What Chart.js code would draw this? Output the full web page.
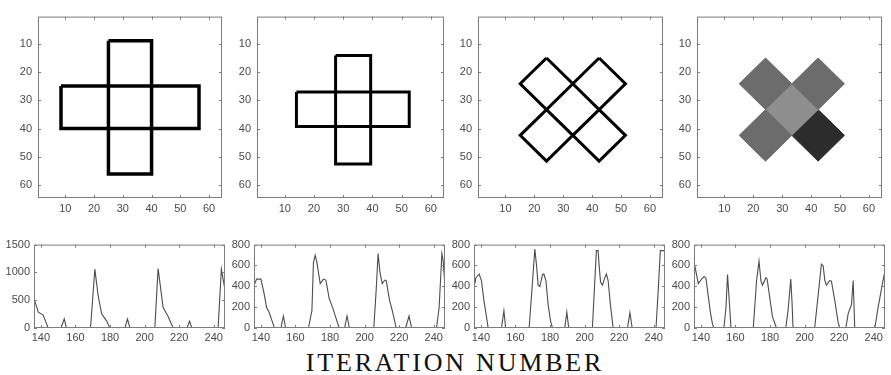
<!DOCTYPE html>
<html>
<head>
<meta charset="utf-8">
<script src="https://cdn.jsdelivr.net/npm/chart.js@4/dist/chart.umd.min.js"></script>
<style>
  body { margin: 0; background: #fff; }
  #wrap { position: relative; width: 891px; height: 375px; overflow: hidden; background: #fff; }
  canvas { position: absolute; }
  #caption {
    position: absolute; left: 0; width: 910px; top: 350px; text-align: center;
    font-family: "Liberation Serif", "DejaVu Serif", serif; font-size: 26px; line-height: 26px;
    letter-spacing: 2.8px; color: #111;
  }
</style>
</head>
<body>
<div id="wrap">
  <canvas id="img1"></canvas>
  <canvas id="img2"></canvas>
  <canvas id="img3"></canvas>
  <canvas id="img4"></canvas>
  <canvas id="trace1"></canvas>
  <canvas id="trace2"></canvas>
  <canvas id="trace3"></canvas>
  <canvas id="trace4"></canvas>
  <div id="caption">ITERATION NUMBER</div>
</div>
<script>
// image panels: pixel grid 1..64
const imgTicks = [10, 20, 30, 40, 50, 60];

// crosses as two overlapping bars: [x0, x1, y0, y1]
const cross1 = [[25, 40, 9, 56], [8.5, 56.5, 25, 40]];
const cross2 = [[27.4, 39.4, 14.2, 52.5], [14, 52.6, 27.1, 39.3]];

// rotated squares (diamonds): centres and half diagonal
const diamondCx = [24.2, 42.4, 24.2, 42.4];
const diamondCy = [24.2, 24.2, 42.4, 42.4];
const diamondR = 9.1;
// filled version: four corner patches plus the middle one
const patchCx = [24.2, 42.4, 24.2, 33.3, 42.4];
const patchCy = [24.2, 24.2, 42.4, 33.3, 42.4];
const patchGray = ['#6c6c6c', '#6c6c6c', '#6c6c6c', '#8e8e8e', '#2c2c2c'];

// iteration traces
const iterTicks = [140, 160, 180, 200, 220, 240];

const trace1X = [136.3, 138.5, 141.3, 144.2, 151.6, 153.5, 154.8, 168.7, 171.2, 173.1, 175.1, 178, 179.9,
  188.6, 190.1, 191.5, 205.9, 207.8, 210.7, 213.6, 216.5, 224.5, 226, 227.3, 242.5, 244.4, 246.4];
const trace1Y = [502, 286, 232, 0, 0, 162, 0, 0, 1058, 583, 259, 124, 0,
  0, 162, 0, 0, 1068, 367, 205, 0, 0, 124, 0, 0, 1058, 700];

const trace2X = [136.1, 137.5, 140, 141.9, 143.3, 144.7, 146.2, 147.8, 151.6, 153, 154.3,
  167.5, 169.5, 170.4, 171.4, 172.4, 174.3, 176.2, 177.6, 179.5, 181.5, 184, 185.3,
  188.4, 189.8, 191.2, 205.3, 206.7, 207.8, 208.8, 210.2, 211.7, 212.5, 214.4, 216, 218.3,
  223.7, 225.7, 227.2, 241.6, 243.1, 244.7, 245.4, 246.4];
const trace2Y = [411, 469, 469, 325, 196, 153, 81, 0, 0, 115, 0,
  0, 167, 627, 699, 627, 426, 469, 460, 282, 196, 66, 0,
  0, 115, 0, 0, 368, 714, 541, 426, 460, 455, 268, 167, 0,
  0, 115, 0, 0, 196, 714, 650, 426];

const trace3X = [136.5, 137.1, 139, 140.3, 141.7, 143.2, 144.2, 151.9, 153.3, 154.3,
  167.9, 169.9, 171.2, 172.2, 173.1, 174.1, 175.6, 176.4, 177.6, 178.9, 180.3, 181.4,
  188.5, 189.7, 190.8, 204.5, 206.8, 207.8, 208.4, 209.2, 210.3, 211.7, 212.6, 213.6, 214.9, 216.5,
  224.8, 226.2, 227.5, 241.3, 242.6, 243.8, 246.4];
const trace3Y = [426, 483, 518, 455, 268, 109, 0, 0, 167, 0,
  0, 455, 757, 598, 411, 397, 512, 518, 455, 224, 66, 0,
  0, 152, 0, 0, 742, 742, 598, 440, 411, 483, 518, 455, 224, 0,
  0, 147, 0, 0, 368, 742, 742];

const trace4X = [136.4, 138.5, 140.4, 141.9, 142.9, 144.2, 145.6, 146.7, 147.5,
  153.3, 154.5, 155.4, 156.2, 157.4,
  170.3, 172.2, 173.6, 174.7, 175.6, 177.6, 178.3, 179.9, 181.4, 183.7,
  189.1, 190.4, 192, 192.7, 193.3,
  205.8, 207.8, 209.7, 210.7, 211.7, 212.6, 214.5, 215.5, 217.4, 219.4, 220.3,
  223.8, 225.2, 227.1, 228.1, 229, 240.6, 242.5, 245, 246.4];
const trace4Y = [600, 426, 470, 495, 480, 311, 138, 37, 0,
  0, 196, 512, 311, 0,
  0, 455, 642, 455, 411, 483, 470, 282, 109, 0,
  0, 167, 469, 250, 0,
  0, 311, 613, 598, 455, 411, 455, 449, 268, 52, 0,
  0, 138, 224, 455, 0, 0, 196, 426, 540];

// frame boxes of the eight axes (page pixels)
const imgLeft = [38, 257, 478, 697];
const imgRight = [222, 444, 663, 882];
const imgTop = 5, imgBottom = 198;
const trLeft = [34, 254, 474, 694];
const trRight = [225, 445, 665, 885];
const trTop = 235, trBottom = 328;

const AXW = 36, AXH = 20, PADT = 1, PADR = 4;

function rectPoints(r) {
  return [{x: r[0], y: r[2]}, {x: r[1], y: r[2]}, {x: r[1], y: r[3]}, {x: r[0], y: r[3]}, {x: r[0], y: r[2]}];
}
function diamondPoints(cx, cy, r) {
  return [{x: cx, y: cy - r}, {x: cx + r, y: cy}, {x: cx, y: cy + r}, {x: cx - r, y: cy}, {x: cx, y: cy - r}];
}

// matlab style box with inward ticks on all four sides
const boxTicks = {
  id: 'boxTicks',
  afterDraw(chart) {
    const {ctx, chartArea: a, scales: {x, y}} = chart;
    const len = 3;
    ctx.save();
    ctx.strokeStyle = '#7c7c7c';
    ctx.lineWidth = 1;
    ctx.strokeRect(a.left + 0.5, a.top + 0.5, a.width - 1, a.height - 1);
    ctx.beginPath();
    x.ticks.forEach(t => {
      const px = Math.round(x.getPixelForValue(t.value)) + 0.5;
      ctx.moveTo(px, a.bottom); ctx.lineTo(px, a.bottom - len);
      ctx.moveTo(px, a.top); ctx.lineTo(px, a.top + len);
    });
    y.ticks.forEach(t => {
      const py = Math.round(y.getPixelForValue(t.value)) + 0.5;
      ctx.moveTo(a.left, py); ctx.lineTo(a.left + len, py);
      ctx.moveTo(a.right, py); ctx.lineTo(a.right - len, py);
    });
    ctx.stroke();
    ctx.restore();
  }
};

function placeCanvas(id, left, right, top, bottom) {
  const c = document.getElementById(id);
  c.width = (right - left) + AXW + PADR;
  c.height = (bottom - top) + PADT + AXH;
  c.style.left = (left - AXW) + 'px';
  c.style.top = (top - PADT) + 'px';
  return c;
}

const tickFont = {family: '"Liberation Sans", Arial, sans-serif', size: 11};

function tickOpts(pad) {
  return {font: tickFont, color: '#4a4a4a', padding: pad, callback: v => String(v)};
}

function axis(min, max, values, extra) {
  return Object.assign({
    type: 'linear', min, max,
    grid: {display: false, drawTicks: false},
    border: {display: false},
    afterBuildTicks: s => { s.ticks = values.map(v => ({value: v})); },
    ticks: tickOpts(4)
  }, extra);
}

function makeChart(canvas, datasets, xAxis, yAxis) {
  xAxis.afterFit = s => { s.height = AXH; };
  yAxis.afterFit = s => { s.width = AXW; };
  return new Chart(canvas, {
    type: 'scatter',
    data: {datasets},
    options: {
      responsive: false,
      animation: false,
      layout: {padding: {top: PADT, right: PADR, left: 0, bottom: 0}},
      plugins: {legend: {display: false}, tooltip: {enabled: false}},
      scales: {x: xAxis, y: yAxis}
    },
    plugins: [boxTicks]
  });
}

function outline(points, width) {
  return {data: points, showLine: true, pointRadius: 0, borderColor: '#000', borderWidth: width,
    borderJoinStyle: 'miter', tension: 0};
}

function imgAxes() {
  return [axis(0.5, 64.5, imgTicks, {ticks: tickOpts(4)}),
          axis(0.5, 64.5, imgTicks, {reverse: true, ticks: tickOpts(6)})];
}

// top row
let ax = imgAxes();
makeChart(placeCanvas('img1', imgLeft[0], imgRight[0], imgTop, imgBottom),
  cross1.map(r => outline(rectPoints(r), 3.5)), ax[0], ax[1]);

ax = imgAxes();
makeChart(placeCanvas('img2', imgLeft[1], imgRight[1], imgTop, imgBottom),
  cross2.map(r => outline(rectPoints(r), 3)), ax[0], ax[1]);

ax = imgAxes();
makeChart(placeCanvas('img3', imgLeft[2], imgRight[2], imgTop, imgBottom),
  diamondCx.map((cx, i) => outline(diamondPoints(cx, diamondCy[i], diamondR), 3)), ax[0], ax[1]);

ax = imgAxes();
makeChart(placeCanvas('img4', imgLeft[3], imgRight[3], imgTop, imgBottom),
  patchCx.map((cx, i) => ({
    data: diamondPoints(cx, patchCy[i], diamondR), showLine: true, pointRadius: 0, tension: 0,
    borderColor: patchGray[i], borderWidth: 1, backgroundColor: patchGray[i], fill: 'shape'
  })), ax[0], ax[1]);

// bottom row
const traces = [[trace1X, trace1Y, 1500, [0, 500, 1000, 1500]],
                [trace2X, trace2Y, 800, [0, 200, 400, 600, 800]],
                [trace3X, trace3Y, 800, [0, 200, 400, 600, 800]],
                [trace4X, trace4Y, 800, [0, 200, 400, 600, 800]]];

traces.forEach(([xs, ys, top, yTicks], k) => {
  const ds = {
    data: xs.map((x, i) => ({x, y: ys[i]})), showLine: true, pointRadius: 0,
    borderColor: '#4c4c4c', borderWidth: 1.1, tension: 0
  };
  makeChart(placeCanvas('trace' + (k + 1), trLeft[k], trRight[k], trTop, trBottom), [ds],
    axis(136, 246.5, iterTicks, {ticks: tickOpts(3)}),
    axis(0, top, yTicks, {ticks: tickOpts(4)}));
});
</script>
</body>
</html>
